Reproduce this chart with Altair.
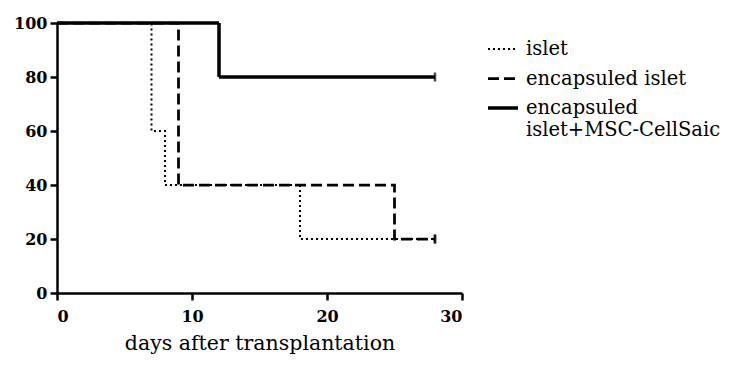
import altair as alt
import pandas as pd

groups = ["islet", "encapsuled islet", "encapsuled islet+MSC-CellSaic"]
islet_days = [0, 7, 8, 18, 28]
islet_surv = [100, 60, 40, 20, 20]
enc_days = [0, 9, 25, 28]
enc_surv = [100, 40, 20, 20]
msc_days = [0, 12, 28]
msc_surv = [100, 80, 80]

rows = []
for g, d, s in zip(groups, [islet_days, enc_days, msc_days], [islet_surv, enc_surv, msc_surv]):
    for i, (dd, ss) in enumerate(zip(d, s)):
        rows.append({"group": g, "day": dd, "surv": ss, "order": i})
df = pd.DataFrame(rows)
last = df.loc[df.groupby("group")["order"].idxmax()]

FONT = "DejaVu Serif"

x = alt.X("day:Q", scale=alt.Scale(domain=[0, 30], nice=False),
          axis=alt.Axis(values=[0, 10, 20, 30], title="days after transplantation",
                        labelFontWeight="bold", labelFontSize=16, titleFontSize=20.5,
                        titleFontWeight="normal", titlePadding=9, labelPadding=8))
y = alt.Y("surv:Q", scale=alt.Scale(domain=[0, 100], nice=False),
          axis=alt.Axis(values=[0, 20, 40, 60, 80, 100], title=None,
                        labelFontWeight="bold", labelFontSize=16, labelPadding=3))

dash_scale = alt.Scale(domain=groups, range=[[2, 3], [11, 5], [1, 0]])
width_scale = alt.Scale(domain=groups, range=[2, 3.5, 2.5])
legend = alt.Legend(title=None, orient="none", legendX=429, legendY=10,
                    symbolType="stroke", symbolSize=900, symbolStrokeColor="black",
                    labelFont=FONT, labelFontSize=19.5, labelColor="black", labelLimit=400,
                    rowPadding=3, labelOffset=6,
                    labelExpr="datum.label == 'encapsuled islet+MSC-CellSaic' ? ['encapsuled', 'islet+MSC-CellSaic'] : datum.label")

lines = alt.Chart(df).mark_line(interpolate="step-after", color="black").encode(
    x=x, y=y,
    order="order:Q",
    strokeDash=alt.StrokeDash("group:N", scale=dash_scale, legend=legend, sort=groups),
    strokeWidth=alt.StrokeWidth("group:N", scale=width_scale, legend=legend, sort=groups),
)

ticks = alt.Chart(last).mark_point(shape="M0,-1V1", size=80, color="black", strokeWidth=2.5, filled=False).encode(
    x="day:Q", y="surv:Q"
)

chart = alt.layer(lines, ticks).properties(
    width=405, height=270,
    autosize=alt.AutoSizeParams(type="none"),
    padding={"left": 49, "top": 15, "right": 264, "bottom": 64},
).configure_view(stroke=None).configure_axis(
    labelFont=FONT, titleFont=FONT, labelColor="black", titleColor="black",
    domainColor="black", domainWidth=2.5, tickColor="black", tickWidth=2.5, tickSize=7,
    grid=False,
)

chart.save("out.html", embed_options={"renderer": "svg", "actions": False})
